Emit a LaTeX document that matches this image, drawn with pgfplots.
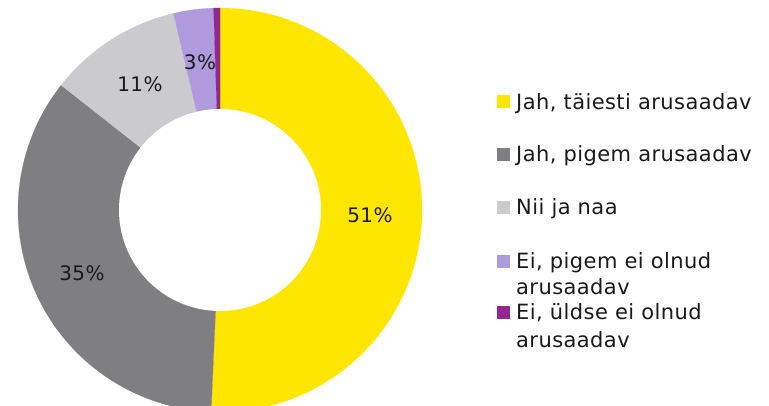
\documentclass[border=0pt]{standalone}
\usepackage{pgfplots}
\pgfplotsset{compat=1.18}
\usepackage{fontspec}
\setmainfont{DejaVu Sans}[LetterSpace=2]
\definecolor{cA}{HTML}{FFE600}
\definecolor{cB}{HTML}{7F7E83}
\definecolor{cC}{HTML}{CBCBCF}
\definecolor{cD}{HTML}{AE9ADC}
\definecolor{cE}{HTML}{91278F}
\definecolor{txt}{HTML}{1A1A1A}
% shares in percent
\def\pA{50.7}
\def\pB{34.9}
\def\pC{10.7}
\def\pD{3.2}
\def\pE{0.5}
\pgfmathsetmacro\aA{90}
\pgfmathsetmacro\aB{\aA-3.6*\pA}
\pgfmathsetmacro\aC{\aB-3.6*\pB}
\pgfmathsetmacro\aD{\aC-3.6*\pC}
\pgfmathsetmacro\aE{\aD-3.6*\pD}
\pgfmathsetmacro\aF{\aE-3.6*\pE}
\def\cx{220}
\def\cy{196}
\def\Ro{202}
\def\Ri{101}
\begin{document}
\begin{tikzpicture}
\begin{axis}[x=1pt,y=1pt,xmin=0,xmax=769,ymin=0,ymax=406,
  scale only axis, hide axis, clip=true]
\addplot[fill=cA, draw=cA, line width=0.2pt, domain=\aB:\aA, samples=150]
  ({\cx+\Ro*cos(x)},{\cy+\Ro*sin(x)}) -- (axis cs:\cx,\cy) -- cycle;
\addplot[fill=cB, draw=cB, line width=0.2pt, domain=\aC:\aB, samples=120]
  ({\cx+\Ro*cos(x)},{\cy+\Ro*sin(x)}) -- (axis cs:\cx,\cy) -- cycle;
\addplot[fill=cC, draw=cC, line width=0.2pt, domain=\aD:\aC, samples=60]
  ({\cx+\Ro*cos(x)},{\cy+\Ro*sin(x)}) -- (axis cs:\cx,\cy) -- cycle;
\addplot[fill=cD, draw=cD, line width=0.2pt, domain=\aE:\aD, samples=30]
  ({\cx+\Ro*cos(x)},{\cy+\Ro*sin(x)}) -- (axis cs:\cx,\cy) -- cycle;
\addplot[fill=cE, draw=cE, line width=0.2pt, domain=\aF:\aE, samples=10]
  ({\cx+\Ro*cos(x)},{\cy+\Ro*sin(x)}) -- (axis cs:\cx,\cy) -- cycle;
\addplot[fill=white, draw=none, domain=0:360, samples=240]
  ({\cx+\Ri*cos(x)},{\cy+\Ri*sin(x)}) -- cycle;
\coordinate (bl) at (axis cs:0,0);
\coordinate (tr) at (axis cs:769,406);
% slice labels
\node[font=\fontsize{20}{24}\selectfont, text=txt] at (axis cs:370,191) {51\%};
\node[font=\fontsize{20}{24}\selectfont, text=txt] at (axis cs:82,133) {35\%};
\node[font=\fontsize{20}{24}\selectfont, text=txt] at (axis cs:140,322) {11\%};
\node[font=\fontsize{20}{24}\selectfont, text=txt] at (axis cs:200,344) {3\%};
% legend
\fill[cA] (axis cs:497,297.5) rectangle (axis cs:510,310.5);
\fill[cB] (axis cs:497,244.5) rectangle (axis cs:510,257.5);
\fill[cC] (axis cs:497,191.5) rectangle (axis cs:510,204.5);
\fill[cD] (axis cs:497,137.5) rectangle (axis cs:510,150.5);
\fill[cE] (axis cs:497,86.5) rectangle (axis cs:510,99.5);
\begin{scope}[every node/.style={anchor=base west, inner sep=0pt, text=txt, font=\fontsize{21}{25}\selectfont}]
\node at (axis cs:516,296) {Jah, täiesti arusaadav};
\node at (axis cs:516,244) {Jah, pigem arusaadav};
\node at (axis cs:516,191) {Nii ja naa};
\node at (axis cs:516,137) {Ei, pigem ei olnud};
\node at (axis cs:516,111) {arusaadav};
\node at (axis cs:516,86) {Ei, üldse ei olnud};
\node at (axis cs:516,58) {arusaadav};
\end{scope}
\end{axis}
\pgfresetboundingbox
\path[use as bounding box] (bl) rectangle (tr);
\end{tikzpicture}
\end{document}
